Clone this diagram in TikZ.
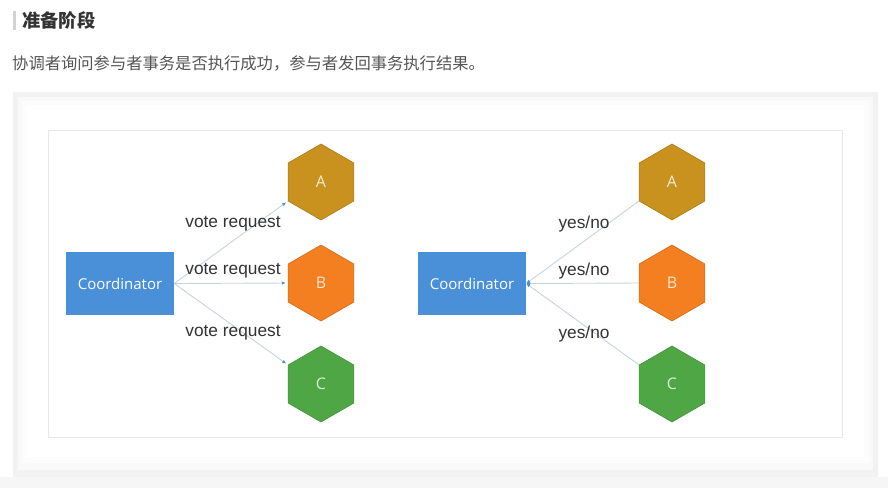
\documentclass[tikz,border=0pt]{standalone}
\usepackage{fontspec}
\usepackage{xcolor}
\usepackage{tikz}
\usetikzlibrary{shapes.geometric,arrows.meta}
\setmainfont{Liberation Sans}
\newfontfamily\cjk{Noto Sans CJK SC}
\newfontfamily\opensans{Open Sans}
\definecolor{cCo}{HTML}{4A90D9}
\definecolor{cA}{HTML}{C9921F}
\definecolor{cB}{HTML}{F47F20}
\definecolor{cC}{HTML}{4EA645}
\definecolor{cLine}{HTML}{C9D3DD}
\definecolor{cTxt}{HTML}{333333}
\definecolor{cSub}{HTML}{555555}
\tikzset{
  coordbox/.style={rectangle, fill=cCo, minimum width=108pt, minimum height=63pt,
    inner sep=0pt, text=white, font=\opensans\fontsize{15}{17}\selectfont},
  hexa/.style={regular polygon, regular polygon sides=6, shape border rotate=30,
    minimum size=76pt, inner sep=0pt, line width=0.6pt, font=\opensans\fontsize{16}{18}\selectfont},
  msg/.style={draw=cLine, line width=0.9pt},
  req/.style={msg, -{Latex[length=4pt,width=3.5pt,color=cCo]}, shorten >=2pt},
  ans/.style={msg, {Latex[length=4pt,width=3.5pt,color=cCo]}-},
  lbl/.style={text=cTxt, font=\fontsize{17.3}{19}\selectfont, inner sep=0pt},
}
\begin{document}
\begin{tikzpicture}[x=1pt, y=-1pt]
\useasboundingbox (0,0) rectangle (888,488);
\fill[white] (0,0) rectangle (888,488);
% heading
\fill[gray!35] (13,11) rectangle (16,30);
\node[anchor=west, text=cTxt, font=\cjk\bfseries\fontsize{18.3}{20}\selectfont, inner sep=0pt] (head) at (22,20.5) {准备阶段};
\node[anchor=west, text=cSub, font=\cjk\fontsize{16.3}{18}\selectfont, inner sep=0pt] (sub) at (12,63) {协调者询问参与者事务是否执行成功，参与者发回事务执行结果。};
% panel
\fill[black!3.5] (0,477) rectangle (888,488);
\fill[black!5] (13,92) rectangle (878,477);
\fill[black!2.5] (18,97) rectangle (873,470);
\fill[black!1] (22,101) rectangle (869,463);
\fill[white] (27,105) rectangle (864,457);
\draw[black!9, line width=0.8pt] (48,130) rectangle (842,437);
% prepare: coordinator asks
\begin{scope}
  \node[coordbox] (coL) at (120,283.5) {Coordinator};
  \node[hexa, fill=cA, draw=cA!85!black, text=cA!20!white] (aL) at (321,182) {A};
  \node[hexa, fill=cB, draw=cB!85!black, text=cB!20!white] (bL) at (321,283) {B};
  \node[hexa, fill=cC, draw=cC!90!black, text=cC!20!white] (cL) at (321,384) {C};
  \draw[req] (coL.east) -- (aL.210);
  \draw[req] (coL.east) -- (bL.west);
  \draw[req] (coL.east) -- (cL.150);
  \node[lbl] (vA) at (233,224) {vote request};
  \node[lbl] (vB) at (233,271) {vote request};
  \node[lbl] (vC) at (233,333) {vote request};
\end{scope}
% participants answer
\begin{scope}
  \node[coordbox] (coR) at (472,283.5) {Coordinator};
  \node[hexa, fill=cA, draw=cA!85!black, text=cA!20!white] (aR) at (672,182) {A};
  \node[hexa, fill=cB, draw=cB!85!black, text=cB!20!white] (bR) at (672,283) {B};
  \node[hexa, fill=cC, draw=cC!90!black, text=cC!20!white] (cR) at (672,384) {C};
  \draw[ans] (coR.east) -- (aR.210);
  \draw[ans] (coR.east) -- (bR.west);
  \draw[ans] (coR.east) -- (cR.150);
  \node[lbl] (yA) at (584,224) {yes/no};
  \node[lbl] (yB) at (584,271) {yes/no};
  \node[lbl] (yC) at (584,334) {yes/no};
\end{scope}
\end{tikzpicture}
\end{document}
